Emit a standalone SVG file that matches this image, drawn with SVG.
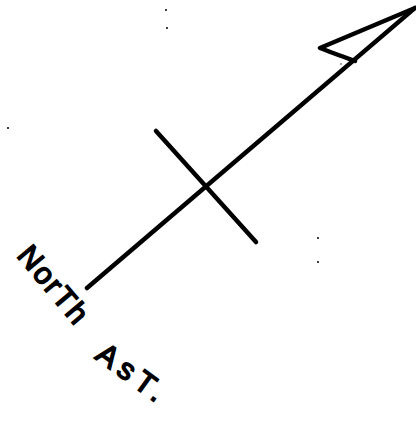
<svg xmlns="http://www.w3.org/2000/svg" width="416" height="422" viewBox="0 0 416 422">
<style>
.ln{stroke:#000;stroke-width:4.5;fill:none;stroke-linecap:round;stroke-linejoin:round}
.lbl{font-family:"Liberation Sans",Arial,sans-serif;font-size:30px;fill:#000;stroke:#000;stroke-width:1.6}
.dot{fill:#000}
</style>
<rect width="416" height="422" fill="#fff"/>
<g id="connectors">
<path class="ln" d="M87,288 L415,8"/>
<path class="ln" d="M156,131 L256,242"/>
<path class="ln" d="M415,8 L320,48 Q330,52 355,61"/>
</g>
<g id="label">
<text class="lbl" transform="translate(16,256) rotate(50)" letter-spacing="2">NorTh</text>
<text class="lbl" transform="translate(94,358) rotate(36)" letter-spacing="6">AsT.</text>
</g>
<g id="specks">
<circle class="dot" cx="8" cy="128" r="1"/>
<circle class="dot" cx="166" cy="10" r="1"/>
<circle class="dot" cx="167" cy="28" r="1"/>
<circle class="dot" cx="318" cy="238" r="1"/>
<circle class="dot" cx="318" cy="262" r="1"/>
<circle class="dot" cx="341" cy="64" r="0.7"/>
</g>
</svg>
